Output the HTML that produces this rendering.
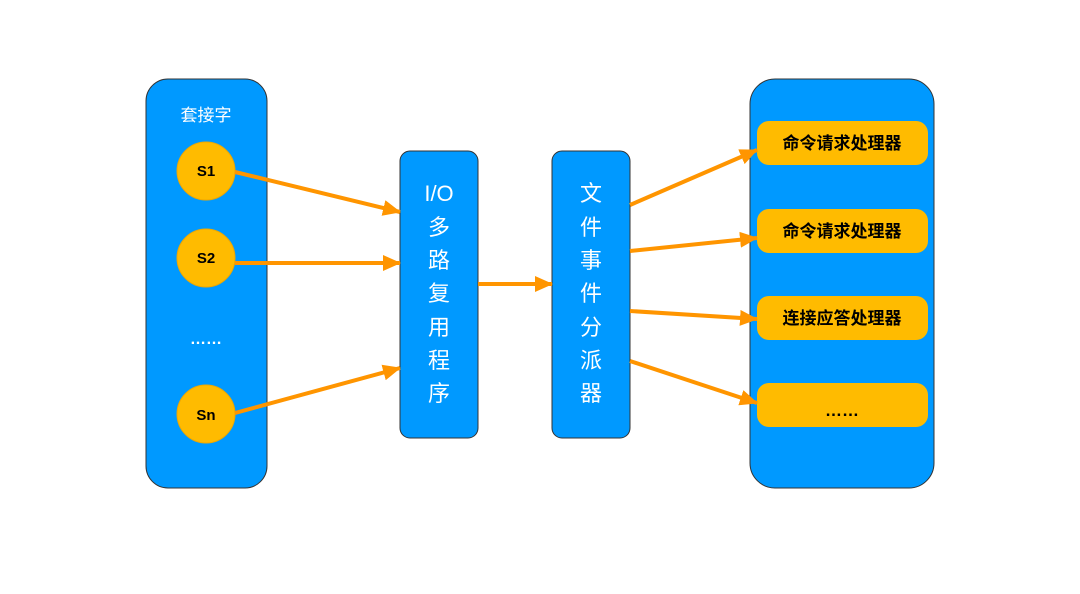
<!DOCTYPE html>
<html><head><meta charset="utf-8"><style>
body{margin:0;background:#fff;}
text{font-family:"Liberation Sans","Noto Sans CJK SC",sans-serif;}
</style></head><body>
<svg width="1080" height="589" viewBox="0 0 1080 589" xmlns="http://www.w3.org/2000/svg">
<defs><marker id="a" markerWidth="8" markerHeight="8" refX="7" refY="4" orient="auto" markerUnits="userSpaceOnUse" viewBox="0 0 8 8"><path d="M0,0L8,4L0,8z" fill="#FF9500"/></marker>
<marker id="b" markerWidth="18" markerHeight="16" refX="17" refY="8" orient="auto" markerUnits="userSpaceOnUse"><path d="M0,0L18,8L0,16z" fill="#FF9500"/></marker></defs>
<rect x="146" y="79" width="121" height="409" rx="22" fill="#0099FF" stroke="#333" stroke-width="1"/>
<text x="206" y="121" fill="#fff" font-size="17" text-anchor="middle">套接字</text>
<g fill="#FFBB00" stroke="#F0A800" stroke-width="1">
<circle cx="206" cy="171" r="29"/><circle cx="206" cy="258" r="29"/><circle cx="206" cy="414" r="29"/></g>
<g font-size="15" font-weight="bold" text-anchor="middle" fill="#000">
<text x="206" y="176">S1</text><text x="206" y="263">S2</text><text x="206" y="420">Sn</text></g>
<text x="206" y="344" fill="#fff" font-size="16" font-weight="bold" text-anchor="middle">……</text>
<rect x="400" y="151" width="78" height="287" rx="10" fill="#0099FF" stroke="#333" stroke-width="1"/>
<rect x="552" y="151" width="78" height="287" rx="10" fill="#0099FF" stroke="#333" stroke-width="1"/>
<g fill="#fff" font-size="22" text-anchor="middle">
<text x="439" y="201">I/O</text><text x="439" y="235">多</text><text x="439" y="268">路</text><text x="439" y="301">复</text><text x="439" y="335">用</text><text x="439" y="368">程</text><text x="439" y="401">序</text>
<text x="591" y="201">文</text><text x="591" y="235">件</text><text x="591" y="268">事</text><text x="591" y="301">件</text><text x="591" y="335">分</text><text x="591" y="368">派</text><text x="591" y="401">器</text></g>
<rect x="750" y="79" width="184" height="409" rx="25" fill="#0099FF" stroke="#333" stroke-width="1"/>
<g fill="#FFBB00"><rect x="757" y="121" width="171" height="44" rx="12"/><rect x="757" y="209" width="171" height="44" rx="12"/><rect x="757" y="296" width="171" height="44" rx="12"/><rect x="757" y="383" width="171" height="44" rx="12"/></g>
<g font-size="17" font-weight="bold" text-anchor="middle" fill="#000">
<text x="842" y="149">命令请求处理器</text><text x="842" y="237">命令请求处理器</text><text x="842" y="324">连接应答处理器</text><text x="842" y="416">……</text></g>
<g stroke="#FF9500" stroke-width="4" fill="none" marker-end="url(#b)">
<line x1="235" y1="172" x2="400" y2="212"/><line x1="235" y1="263" x2="400" y2="263"/><line x1="235" y1="413" x2="400" y2="368"/>
<line x1="478" y1="284" x2="552" y2="284"/>
<line x1="630" y1="205" x2="757" y2="150"/><line x1="630" y1="251" x2="757" y2="238"/><line x1="630" y1="311" x2="757" y2="319"/><line x1="630" y1="361" x2="757" y2="403"/></g>
</svg>
</body></html>
